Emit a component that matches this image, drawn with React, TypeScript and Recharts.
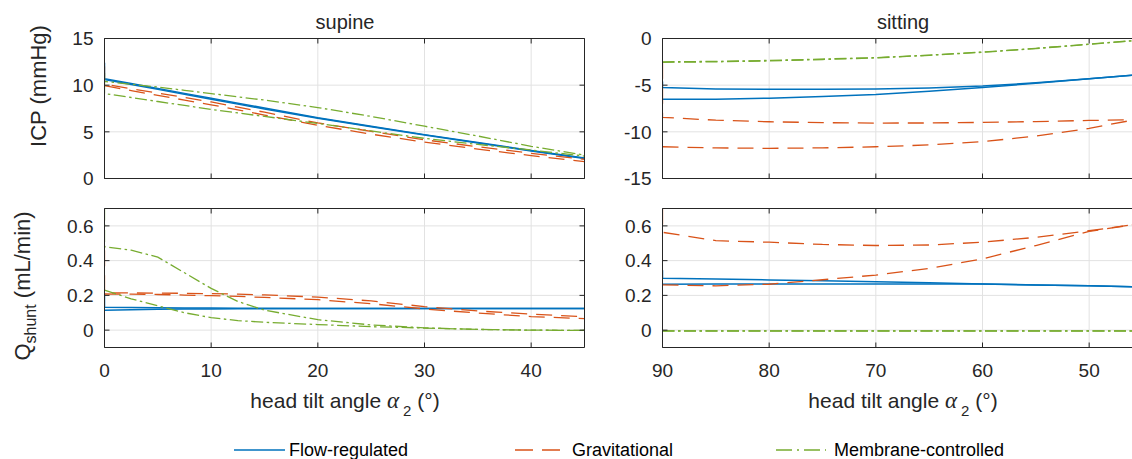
import React from "react";
import { LineChart, Line, XAxis, YAxis, CartesianGrid, ReferenceLine } from "recharts";

// head tilt angles (deg); the repeated first angle carries the start-up transient
const supineAngles = [0, 0, 2.5, 5, 7.5, 10, 12.5, 15, 20, 25, 30, 35, 40, 45];
const sittingAngles = [90, 90, 85, 80, 75, 70, 65, 60, 55, 50, 45];

// ICP (mmHg), supine
const supineIcpFlowA = [12.4, 10.7, 10.17, 9.65, 9.12, 8.6, 8.07, 7.55, 6.5, 5.6, 4.7, 3.85, 3.0, 2.2];
const supineIcpFlowB = [10.6, 10.6, 10.07, 9.55, 9.02, 8.5, 7.97, 7.45, 6.45, 5.55, 4.65, 3.8, 2.95, 2.15];
const supineIcpGravA = [12.0, 10.1, 9.62, 9.15, 8.68, 8.2, 7.65, 7.1, 5.95, 5.05, 4.15, 3.4, 2.7, 2.05];
const supineIcpGravB = [9.95, 9.95, 9.42, 8.9, 8.4, 7.9, 7.35, 6.8, 5.7, 4.75, 3.9, 3.15, 2.45, 1.8];
const supineIcpMembA = [11.3, 10.4, 10.1, 9.8, 9.45, 9.1, 8.75, 8.4, 7.6, 6.65, 5.6, 4.55, 3.45, 2.5];
const supineIcpMembB = [10.4, 9.1, 8.68, 8.25, 7.83, 7.4, 7.02, 6.65, 5.9, 5.1, 4.3, 3.65, 3.05, 2.4];

// ICP (mmHg), sitting
const sittingIcpFlowA = [-4.6, -5.25, -5.4, -5.45, -5.45, -5.4, -5.3, -5.1, -4.75, -4.3, -3.85];
const sittingIcpFlowB = [-6.5, -6.5, -6.5, -6.4, -6.22, -6.0, -5.65, -5.25, -4.8, -4.3, -3.85];
const sittingIcpGravA = [-2.6, -8.45, -8.75, -8.92, -9.02, -9.06, -9.05, -8.99, -8.9, -8.78, -8.7];
const sittingIcpGravB = [-11.6, -11.6, -11.72, -11.77, -11.72, -11.6, -11.4, -11.06, -10.45, -9.63, -8.55];
const sittingIcpMembA = [-2.5, -2.5, -2.45, -2.35, -2.2, -2.05, -1.78, -1.45, -1.05, -0.6, -0.15];
const sittingIcpMembB = [-2.55, -2.55, -2.5, -2.4, -2.25, -2.08, -1.8, -1.48, -1.08, -0.62, -0.17];

// Q shunt (mL/min), supine
const supineQFlowA = [0.21, 0.132, 0.13, 0.129, 0.128, 0.127, 0.126, 0.126, 0.125, 0.125, 0.125, 0.125, 0.125, 0.125];
const supineQFlowB = [0.115, 0.115, 0.117, 0.12, 0.121, 0.122, 0.123, 0.123, 0.124, 0.124, 0.125, 0.125, 0.125, 0.125];
const supineQGravA = [0.46, 0.215, 0.214, 0.213, 0.212, 0.21, 0.207, 0.203, 0.19, 0.168, 0.135, 0.11, 0.092, 0.077];
const supineQGravB = [0.208, 0.208, 0.207, 0.205, 0.202, 0.198, 0.194, 0.188, 0.175, 0.152, 0.122, 0.098, 0.078, 0.066];
const supineQMembA = [0.7, 0.48, 0.46, 0.42, 0.33, 0.24, 0.165, 0.115, 0.06, 0.03, 0.013, 0.004, 0.0, -0.002];
const supineQMembB = [0.23, 0.23, 0.18, 0.14, 0.1, 0.072, 0.055, 0.045, 0.032, 0.02, 0.012, 0.004, 0.0, -0.002];

// Q shunt (mL/min), sitting
const sittingQFlowA = [0.345, 0.298, 0.294, 0.289, 0.284, 0.279, 0.273, 0.266, 0.26, 0.255, 0.248];
const sittingQFlowB = [0.264, 0.264, 0.265, 0.265, 0.266, 0.266, 0.266, 0.265, 0.26, 0.255, 0.248];
const sittingQGravA = [0.7, 0.563, 0.515, 0.506, 0.493, 0.487, 0.49, 0.506, 0.534, 0.572, 0.615];
const sittingQGravB = [0.26, 0.26, 0.255, 0.264, 0.29, 0.317, 0.355, 0.41, 0.487, 0.568, 0.615];
const sittingQMembA = [-0.005, -0.005, -0.005, -0.005, -0.005, -0.005, -0.005, -0.005, -0.005, -0.005, -0.005];
const sittingQMembB = [-0.004, -0.004, -0.004, -0.004, -0.004, -0.004, -0.004, -0.004, -0.004, -0.004, -0.004];

const supineTicks = [0, 10, 20, 30, 40];
const sittingTicks = [90, 80, 70, 60, 50];
const icpSupineTicks = [0, 5, 10, 15];
const icpSittingTicks = [-15, -10, -5, 0];
const qTicks = [0, 0.2, 0.4, 0.6];

const legendLabels = ["Flow-regulated", "Gravitational", "Membrane-controlled"];

const AXIS = "#262626";
const GRID = "#e2e2e2";
const FONT = "'Liberation Sans', Arial, Helvetica, sans-serif";
const PLOT_W = 480;
const TICK_LEN = 5;
const TOP = 38.5; // half pixel keeps the 1px frame crisp

const LINE_STYLE = {
  flow: { stroke: "#0072BD", strokeWidth: 1.5 },
  grav: { stroke: "#D95319", strokeWidth: 1.3, strokeDasharray: "16 9" },
  memb: { stroke: "#77AC30", strokeWidth: 1.3, strokeDasharray: "12 3.5 2.5 3.5" },
};

type Kind = keyof typeof LINE_STYLE;
type Series = { kind: Kind; ys: number[] };

const toPoints = (xs: number[], ys: number[]) => xs.map((x, i) => ({ x, y: ys[i] }));

function Panel(props: {
  left: number;
  top: number;
  height: number;
  xs: number[];
  xDomain: [number, number];
  xTicks: number[];
  reversed?: boolean;
  yDomain: [number, number];
  yTicks: number[];
  series: Series[];
  xLabels: boolean;
}) {
  const { left, top, height, xs, xDomain, xTicks, reversed, yDomain, yTicks, series, xLabels } = props;
  const tickStyle = { fill: AXIS, fontSize: 19, fontFamily: FONT };
  const blank = () => "";
  const frame = { stroke: AXIS, strokeWidth: 1 };
  const bottomH = xLabels ? 52.5 : 21.5;
  const plotH = height - TOP - bottomH;

  // frame on the top and right edges, with inward tick marks like the left/bottom axes
  const yTop = yDomain[1];
  const dy = (TICK_LEN * (yDomain[1] - yDomain[0])) / plotH;
  const xRight = reversed ? xDomain[0] : xDomain[1];
  const dx = ((TICK_LEN * (xDomain[1] - xDomain[0])) / PLOT_W) * (reversed ? 1 : -1);

  return (
    <div style={{ position: "absolute", left, top }}>
      <LineChart width={600} height={height} margin={{ top: TOP, right: 15.5, bottom: 0, left: 0 }}>
        <CartesianGrid stroke={GRID} />
        <XAxis
          type="number"
          dataKey="x"
          domain={xDomain}
          ticks={xTicks}
          reversed={reversed}
          allowDataOverflow
          interval={0}
          height={bottomH}
          tickSize={-TICK_LEN}
          tickMargin={21}
          axisLine={frame}
          tickLine={frame}
          tick={tickStyle}
          tickFormatter={xLabels ? undefined : blank}
        />
        <YAxis
          type="number"
          domain={yDomain}
          ticks={yTicks}
          allowDataOverflow
          interval={0}
          width={104.5}
          tickSize={-TICK_LEN}
          tickMargin={16}
          axisLine={frame}
          tickLine={frame}
          tick={tickStyle}
        />
        {series.map((s, i) => (
          <Line
            key={i}
            data={toPoints(xs, s.ys)}
            dataKey="y"
            type="linear"
            dot={false}
            activeDot={false}
            isAnimationActive={false}
            {...LINE_STYLE[s.kind]}
          />
        ))}
        <ReferenceLine y={yTop} stroke={AXIS} strokeWidth={1} />
        <ReferenceLine x={xRight} stroke={AXIS} strokeWidth={1} />
        {xTicks.map((t) => (
          <ReferenceLine
            key={"tx" + t}
            segment={[
              { x: t, y: yTop },
              { x: t, y: yTop - dy },
            ]}
            stroke={AXIS}
            strokeWidth={1}
          />
        ))}
        {yTicks.map((t) => (
          <ReferenceLine
            key={"ty" + t}
            segment={[
              { x: xRight, y: t },
              { x: xRight + dx, y: t },
            ]}
            stroke={AXIS}
            strokeWidth={1}
          />
        ))}
      </LineChart>
    </div>
  );
}

const text = { position: "absolute" as const, color: AXIS, whiteSpace: "nowrap" as const, lineHeight: 1, fontFamily: FONT };

function XTitle({ cx }: { cx: number }) {
  return (
    <div style={{ ...text, left: cx, top: 400, fontSize: 21, transform: "translate(-50%, -50%)" }}>
      head tilt angle{" "}
      <span style={{ fontFamily: "'Liberation Serif', serif", fontStyle: "italic", fontSize: 23 }}>α</span>
      <span style={{ fontSize: 15, position: "relative", top: 8, marginLeft: 4 }}>2</span> (°)
    </div>
  );
}

export default function App() {
  const legendPos = [
    { x1: 234, x2: 285, tx: 289, kind: "flow" as Kind, dash: undefined },
    { x1: 515, x2: 560, tx: 572, kind: "grav" as Kind, dash: "18 9" },
    { x1: 776, x2: 826, tx: 834, kind: "memb" as Kind, dash: "16 5 2 5" },
  ];
  return (
    <div
      style={{
        position: "absolute",
        left: 0,
        top: 0,
        width: 1132,
        height: 459,
        overflow: "hidden",
        background: "#fff",
        fontFamily: FONT,
      }}
    >
      <Panel
        left={0}
        top={0}
        height={200}
        xs={supineAngles}
        xDomain={[0, 45]}
        xTicks={supineTicks}
        yDomain={[0, 15]}
        yTicks={icpSupineTicks}
        xLabels={false}
        series={[
          { kind: "flow", ys: supineIcpFlowA },
          { kind: "flow", ys: supineIcpFlowB },
          { kind: "grav", ys: supineIcpGravA },
          { kind: "grav", ys: supineIcpGravB },
          { kind: "memb", ys: supineIcpMembA },
          { kind: "memb", ys: supineIcpMembB },
        ]}
      />
      <Panel
        left={558}
        top={0}
        height={200}
        xs={sittingAngles}
        xDomain={[45, 90]}
        xTicks={sittingTicks}
        reversed
        yDomain={[-15, 0]}
        yTicks={icpSittingTicks}
        xLabels={false}
        series={[
          { kind: "flow", ys: sittingIcpFlowA },
          { kind: "flow", ys: sittingIcpFlowB },
          { kind: "grav", ys: sittingIcpGravA },
          { kind: "grav", ys: sittingIcpGravB },
          { kind: "memb", ys: sittingIcpMembA },
          { kind: "memb", ys: sittingIcpMembB },
        ]}
      />
      <Panel
        left={0}
        top={170}
        height={230}
        xs={supineAngles}
        xDomain={[0, 45]}
        xTicks={supineTicks}
        yDomain={[-0.1, 0.7]}
        yTicks={qTicks}
        xLabels
        series={[
          { kind: "flow", ys: supineQFlowA },
          { kind: "flow", ys: supineQFlowB },
          { kind: "grav", ys: supineQGravA },
          { kind: "grav", ys: supineQGravB },
          { kind: "memb", ys: supineQMembA },
          { kind: "memb", ys: supineQMembB },
        ]}
      />
      <Panel
        left={558}
        top={170}
        height={230}
        xs={sittingAngles}
        xDomain={[45, 90]}
        xTicks={sittingTicks}
        reversed
        yDomain={[-0.1, 0.7]}
        yTicks={qTicks}
        xLabels
        series={[
          { kind: "flow", ys: sittingQFlowA },
          { kind: "flow", ys: sittingQFlowB },
          { kind: "grav", ys: sittingQGravA },
          { kind: "grav", ys: sittingQGravB },
          { kind: "memb", ys: sittingQMembA },
          { kind: "memb", ys: sittingQMembB },
        ]}
      />

      <div style={{ ...text, left: 345, top: 22, fontSize: 20, transform: "translate(-50%, -50%)" }}>supine</div>
      <div style={{ ...text, left: 903, top: 22, fontSize: 20, transform: "translate(-50%, -50%)" }}>sitting</div>

      <div style={{ ...text, left: 39, top: 86, fontSize: 22, transform: "translate(-50%, -50%) rotate(-90deg)" }}>
        ICP (mmHg)
      </div>
      <div style={{ ...text, left: 23, top: 286, fontSize: 22, transform: "translate(-50%, -50%) rotate(-90deg)" }}>
        Q<span style={{ fontSize: 16, position: "relative", top: 6 }}>shunt</span> (mL/min)
      </div>

      <XTitle cx={345} />
      <XTitle cx={903} />

      <svg width={1132} height={20} style={{ position: "absolute", left: 0, top: 439 }}>
        {legendLabels.map((label, i) => {
          const p = legendPos[i];
          const st = LINE_STYLE[p.kind];
          return (
            <g key={label}>
              <line
                x1={p.x1}
                x2={p.x2}
                y1={11}
                y2={11}
                stroke={st.stroke}
                strokeWidth={1.3}
                strokeDasharray={p.dash}
              />
              <text x={p.tx} y={11} dominantBaseline="central" fontSize={18} fill="#000" fontFamily={FONT}>
                {label}
              </text>
            </g>
          );
        })}
      </svg>
    </div>
  );
}
